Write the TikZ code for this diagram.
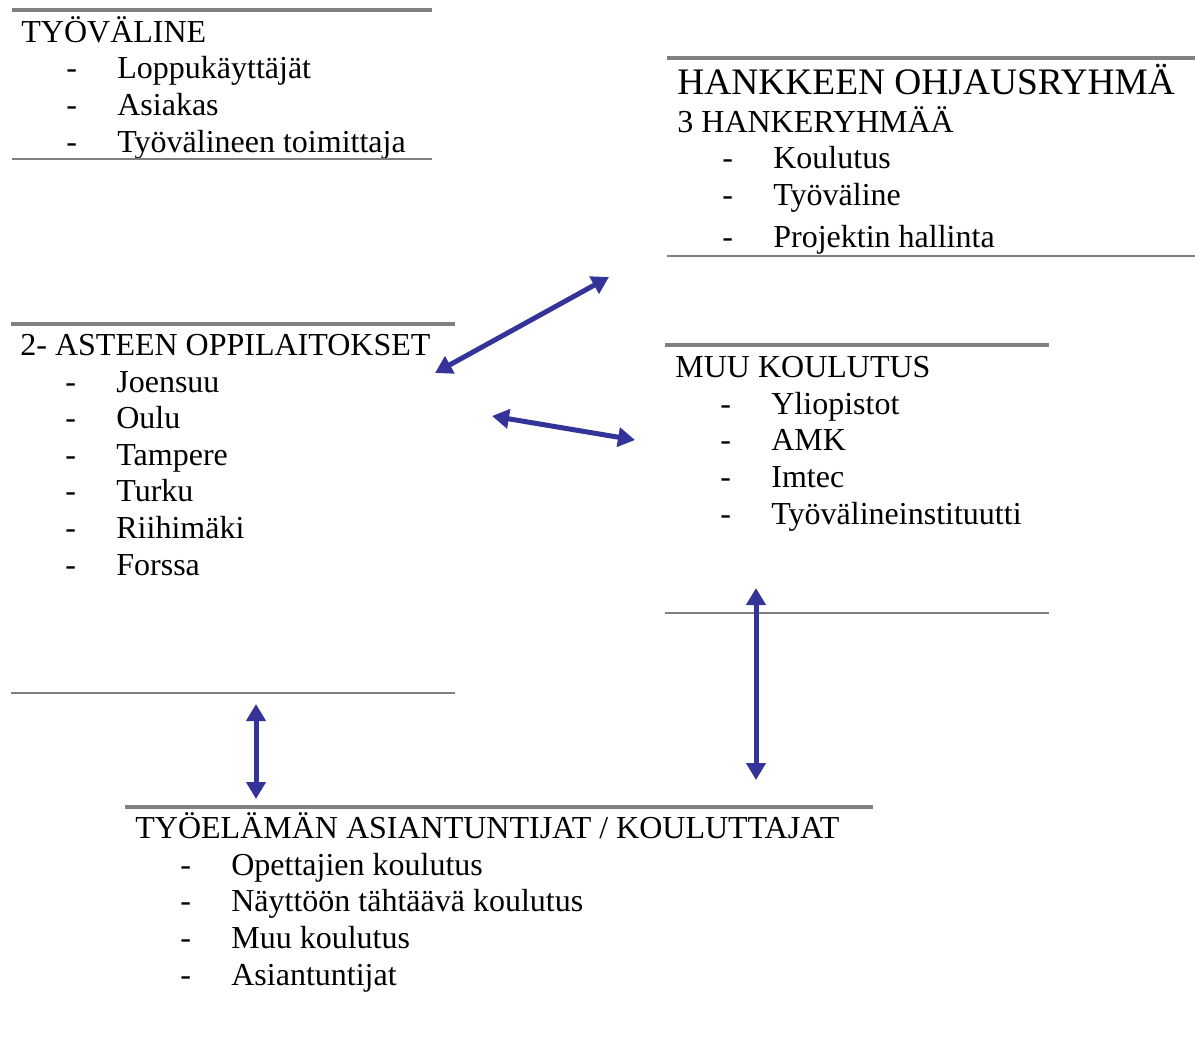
\documentclass[tikz,border=0pt]{standalone}
\usepackage{fontspec}
\setmainfont{Liberation Serif}
\usetikzlibrary{arrows.meta}

\definecolor{rulegray}{HTML}{808080}
\definecolor{arrowblue}{HTML}{333399}
\newcommand{\dashitem}[1]{\hspace*{22.5pt}\makebox[25.5pt][l]{-}#1}

\begin{document}
\begin{tikzpicture}[x=0.5pt, y=-0.5pt,
    font=\fontsize{16}{18.3}\selectfont,
    block/.style={anchor=base west, align=left, inner sep=0pt},
    bigtitle/.style={anchor=base west, inner sep=0pt, font=\fontsize{18.7}{22}\selectfont},
    toprule/.style={draw=rulegray, line width=2pt},
    botrule/.style={draw=rulegray, line width=1pt},
    link/.style={draw=arrowblue, line width=2.5pt, {Triangle[length=8.5pt,width=9.5pt]}-{Triangle[length=8.5pt,width=9.5pt]}}]
  \useasboundingbox (0,0) rectangle (1195,1062);
  % ---- tyovaline (placed by the baseline of its last line)
  \draw[toprule] (12,10) -- (432,10);
  \node[block] (tyovaline) at (21,152) {TYÖVÄLINE\\
    \dashitem{Loppukäyttäjät}\\
    \dashitem{Asiakas}\\
    \dashitem{Työvälineen toimittaja}};
  \draw[botrule] (12,159) -- (432,159);
  % ---- ohjausryhma
  \draw[toprule] (667,58) -- (1195,58);
  \node[bigtitle] (ohjaus) at (677,94) {HANKKEEN OHJAUSRYHMÄ};
  \node[block] (hankeryhmat) at (677,247) {3 HANKERYHMÄÄ\\
    \dashitem{Koulutus}\\
    \dashitem{Työväline}\\[2.5pt]
    \dashitem{Projektin hallinta}};
  \draw[botrule] (667,256) -- (1195,256);
  % ---- oppilaitokset
  \draw[toprule] (11,324) -- (455,324);
  \node[block] (oppilaitokset) at (20,575) {2- ASTEEN OPPILAITOKSET\\
    \dashitem{Joensuu}\\
    \dashitem{Oulu}\\
    \dashitem{Tampere}\\
    \dashitem{Turku}\\
    \dashitem{Riihimäki}\\
    \dashitem{Forssa}};
  \draw[botrule] (11,693) -- (455,693);
  % ---- muu koulutus
  \draw[toprule] (665,345) -- (1049,345);
  \node[block] (muu) at (675,524) {MUU KOULUTUS\\
    \dashitem{Yliopistot}\\
    \dashitem{AMK}\\
    \dashitem{Imtec}\\
    \dashitem{Työvälineinstituutti}};
  \draw[botrule] (665,613) -- (1049,613);
  % ---- tyoelama
  \draw[toprule] (125,807) -- (873,807);
  \node[block] (tyoelama) at (135,985) {TYÖELÄMÄN ASIANTUNTIJAT / KOULUTTAJAT\\
    \dashitem{Opettajien koulutus}\\
    \dashitem{Näyttöön tähtäävä koulutus}\\
    \dashitem{Muu koulutus}\\
    \dashitem{Asiantuntijat}};
  % ---- arrows
  \coordinate (oppNE) at (435,373);
  \coordinate (ohjSW) at (609,277);
  \coordinate (oppE) at (492,416);
  \coordinate (muuW) at (635,440);
  \coordinate (oppS) at (256,704);
  \coordinate (tyoN) at (256,799);
  \coordinate (muuS) at (756,588);
  \coordinate (tyoNE) at (756,780);
  \draw[link] (oppNE) -- (ohjSW);
  \draw[link] (oppE) -- (muuW);
  \draw[link] (oppS) -- (tyoN);
  \draw[link] (muuS) -- (tyoNE);
\end{tikzpicture}
\end{document}
